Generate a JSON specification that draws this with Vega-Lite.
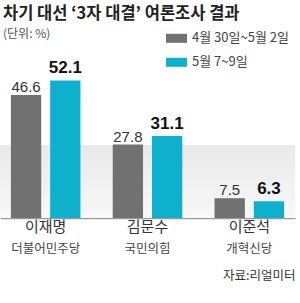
{
  "$schema": "https://vega.github.io/schema/vega-lite/v6.json",
  "autosize": "none",
  "width": 295,
  "height": 145.2,
  "padding": {"left": 0, "right": 5, "top": 72.8, "bottom": 85},
  "background": "white",
  "config": {"view": {"stroke": null}, "font": "Noto Sans CJK KR"},
  "title": {
    "text": "차기 대선 ‘3자 대결’ 여론조사 결과",
    "subtitle": "(단위: %)",
    "anchor": "start",
    "frame": "group",
    "font": "Noto Sans CJK KR",
    "fontSize": 16.5,
    "fontWeight": "bold",
    "color": "#222222",
    "subtitleFont": "Noto Sans CJK KR",
    "subtitleFontSize": 12,
    "subtitleColor": "#555555",
    "subtitlePadding": 6,
    "offset": -12,
    "dx": 3
  },
  "data": {
    "values": [
      {"candidate": "이재명", "party": "더불어민주당", "period": "4월 30일~5월 2일", "value": 46.6},
      {"candidate": "이재명", "party": "더불어민주당", "period": "5월 7~9일", "value": 52.1},
      {"candidate": "김문수", "party": "국민의힘", "period": "4월 30일~5월 2일", "value": 27.8},
      {"candidate": "김문수", "party": "국민의힘", "period": "5월 7~9일", "value": 31.1},
      {"candidate": "이준석", "party": "개혁신당", "period": "4월 30일~5월 2일", "value": 7.5},
      {"candidate": "이준석", "party": "개혁신당", "period": "5월 7~9일", "value": 6.3}
    ]
  },
  "encoding": {
    "x": {
      "field": "candidate",
      "type": "nominal",
      "sort": null,
      "scale": {"paddingInner": 0.317, "paddingOuter": 0.107},
      "axis": {
        "title": "자료:리얼미터",
        "titleAnchor": "end",
        "titleFont": "Noto Sans CJK KR",
        "titleFontSize": 12.5,
        "titleFontWeight": "normal",
        "titleColor": "#333333",
        "titlePadding": 35,
        "labelAngle": 0,
        "labelFont": "Noto Sans CJK KR",
        "labelFontSize": 15,
        "labelColor": "#333333",
        "labelPadding": 1,
        "ticks": false,
        "domainColor": "#9a9a9a",
        "domainWidth": 1.5
      }
    }
  },
  "layer": [
    {
      "data": {"values": [{}]},
      "mark": {
        "type": "rect",
        "color": {
          "gradient": "linear",
          "x1": 0, "y1": 0, "x2": 0, "y2": 1,
          "stops": [
            {"offset": 0, "color": "#e9e9e9"},
            {"offset": 1, "color": "#f8f8f8"}
          ]
        }
      },
      "encoding": {
        "x": null,
        "y": {"datum": 27.65, "type": "quantitative", "scale": {"domain": [0, 55]}, "axis": null},
        "y2": {"datum": 0}
      }
    },
    {
      "mark": {"type": "bar"},
      "encoding": {
        "xOffset": {
          "field": "period",
          "type": "nominal",
          "scale": {"domain": ["4월 30일~5월 2일", "5월 7~9일"], "paddingInner": 0.228, "paddingOuter": 0}
        },
        "y": {"field": "value", "type": "quantitative", "scale": {"domain": [0, 55]}, "axis": null},
        "color": {
          "field": "period",
          "type": "nominal",
          "scale": {"domain": ["4월 30일~5월 2일", "5월 7~9일"], "range": ["#717171", "#0fb0ce"]},
          "legend": {
            "title": null,
            "orient": "none",
            "legendX": 166,
            "legendY": -45,
            "padding": 0,
            "symbolType": "M-1,-0.43H1V0.43H-1Z",
            "symbolSize": 441,
            "symbolStrokeWidth": 0,
            "rowPadding": 6,
            "labelFont": "Noto Sans CJK KR",
            "labelFontSize": 13,
            "labelColor": "#444444",
            "labelOffset": 5
          }
        }
      }
    },
    {
      "transform": [{"filter": "datum.period === '4월 30일~5월 2일'"}],
      "mark": {"type": "text", "baseline": "alphabetic", "dy": -3, "fontSize": 15, "font": "Liberation Sans", "color": "#333333"},
      "encoding": {
        "xOffset": {"field": "period", "type": "nominal", "scale": {"domain": ["4월 30일~5월 2일", "5월 7~9일"], "paddingInner": 0.228, "paddingOuter": 0}},
        "y": {"field": "value", "type": "quantitative"},
        "text": {"field": "value", "type": "quantitative", "format": ".1f"}
      }
    },
    {
      "transform": [{"filter": "datum.period === '5월 7~9일'"}],
      "mark": {"type": "text", "baseline": "alphabetic", "dy": -7, "fontSize": 17, "fontWeight": "bold", "font": "Liberation Sans", "color": "#111111"},
      "encoding": {
        "xOffset": {"field": "period", "type": "nominal", "scale": {"domain": ["4월 30일~5월 2일", "5월 7~9일"], "paddingInner": 0.228, "paddingOuter": 0}},
        "y": {"field": "value", "type": "quantitative"},
        "text": {"field": "value", "type": "quantitative", "format": ".1f"}
      }
    },
    {
      "transform": [{"filter": "datum.period === '5월 7~9일'"}],
      "mark": {"type": "text", "baseline": "top", "dy": 25, "fontSize": 12.5, "font": "Noto Sans CJK KR", "color": "#444444"},
      "encoding": {
        "y": {"datum": 0, "type": "quantitative"},
        "text": {"field": "party", "type": "nominal"}
      }
    }
  ]
}
